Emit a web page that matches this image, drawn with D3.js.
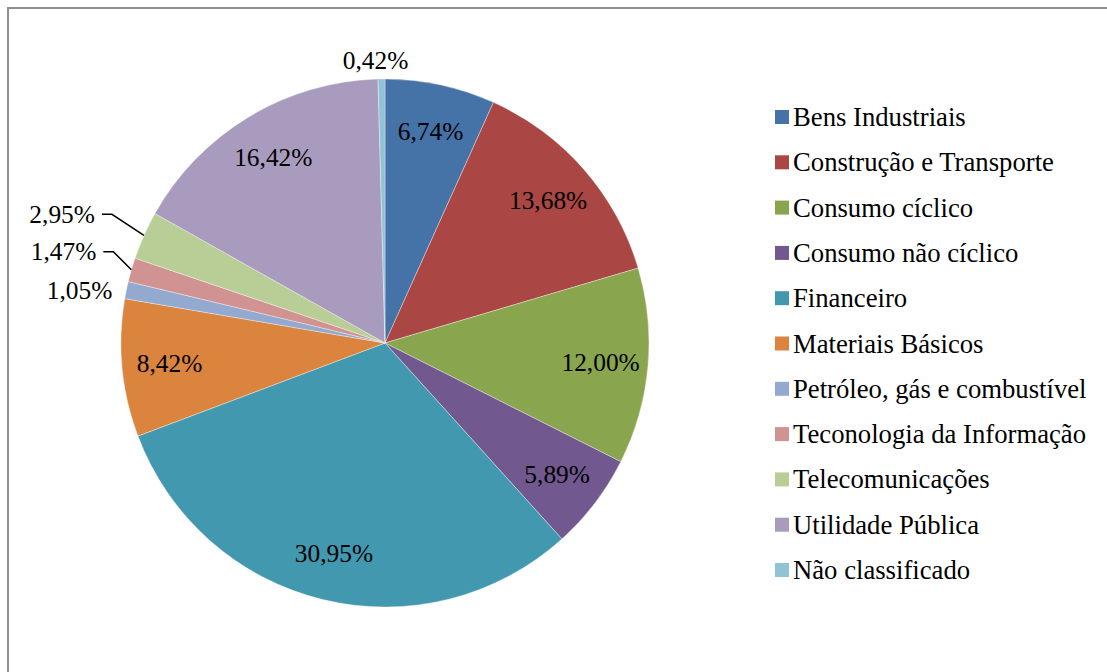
<!DOCTYPE html>
<html>
<head>
<meta charset="utf-8">
<script src="https://cdn.jsdelivr.net/npm/d3@7"></script>
<style>
  body { margin: 0; background: #fff; }
  svg { display: block; }
  text { font-family: "Liberation Serif", "Times New Roman", serif; fill: #000; }
</style>
</head>
<body>
<div id="chart"></div>
<script>
// setores e participação (%)
var categories = ['Bens Industriais', 'Construção e Transporte', 'Consumo cíclico', 'Consumo não cíclico',
    'Financeiro', 'Materiais Básicos', 'Petróleo, gás e combustível', 'Teconologia da Informação',
    'Telecomunicações', 'Utilidade Pública', 'Não classificado']
var values = [6.74, 13.68, 12.00, 5.89, 30.95, 8.42, 1.05, 1.47, 2.95, 16.42, 0.42]
var colors = ['#4572A7', '#AA4643', '#89A54E', '#71588F', '#4198AF', '#DB843D',
    '#93A9CF', '#D19392', '#B9CD96', '#A99BBD', '#92C3D4']

var width = 1107, height = 672
var cx = 385, cy = 343, r = 264
var labelSize = '25.4px'

var svg = d3.select('#chart').append('svg')
    .attr('width', width)
    .attr('height', height)

// moldura
svg.append('rect')
    .attr('x', 8).attr('y', 8)
    .attr('width', width).attr('height', height)
    .attr('fill', 'none')
    .attr('stroke', '#8f8f8f')
    .attr('stroke-width', 2)

var fmt = function (v) { return d3.format('.2f')(v).replace('.', ',') + '%' }

var pie = d3.pie().sort(null).value(function (d) { return d })
var arcs = pie(values)
var arc = d3.arc().innerRadius(0).outerRadius(r)
var labelArc = d3.arc().innerRadius(r * 0.82).outerRadius(r * 0.82)
var edgeArc = d3.arc().innerRadius(r).outerRadius(r)

var g = svg.append('g').attr('transform', 'translate(' + cx + ',' + cy + ')')

g.selectAll('path.slice')
    .data(arcs)
    .enter().append('path')
    .attr('class', 'slice')
    .attr('d', arc)
    .attr('fill', function (d, i) { return colors[i] })
    .attr('stroke', '#fff')
    .attr('stroke-width', 0.6)
    .attr('stroke-opacity', 0.6)

// fatias pequenas ficam fora, algumas com linha de chamada
var outside = {
    6: {dx: -14, dy: 0, leader: false},
    7: {dx: -18, dy: -18, leader: true},
    8: {dx: -32, dy: -21, leader: true},
    10: {dx: -6, dy: -10, leader: false, middle: true}
}

arcs.forEach(function (d, i) {
    var o = outside[i]
    if (!o) {
        var c = labelArc.centroid(d)
        g.append('text')
            .attr('x', c[0]).attr('y', c[1])
            .attr('dy', '0.34em')
            .attr('text-anchor', 'middle')
            .style('font-size', labelSize)
            .text(fmt(values[i]))
        return
    }
    var e = edgeArc.centroid(d)
    var px = e[0] + o.dx, py = e[1] + o.dy
    if (o.leader) {
        g.append('path')
            .attr('d', d3.line()([[e[0], e[1]], [px, py], [px - 10, py]]))
            .attr('fill', 'none')
            .attr('stroke', '#000')
            .attr('stroke-width', 1.5)
        px -= 17
    }
    g.append('text')
        .attr('x', px).attr('y', py)
        .attr('dy', o.middle ? '0' : '0.34em')
        .attr('text-anchor', o.middle ? 'middle' : 'end')
        .style('font-size', labelSize)
        .text(fmt(values[i]))
})

// legenda
var legend = svg.append('g').attr('transform', 'translate(775,117)')
var row = legend.selectAll('g')
    .data(categories)
    .enter().append('g')
    .attr('transform', function (d, i) { return 'translate(0,' + (i * 45.3) + ')' })
row.append('rect')
    .attr('x', 0).attr('y', -7)
    .attr('width', 14).attr('height', 14)
    .attr('fill', function (d, i) { return colors[i] })
row.append('text')
    .attr('x', 18).attr('y', 9)
    .style('font-size', '26.7px')
    .text(function (d) { return d })
</script>
</body>
</html>
